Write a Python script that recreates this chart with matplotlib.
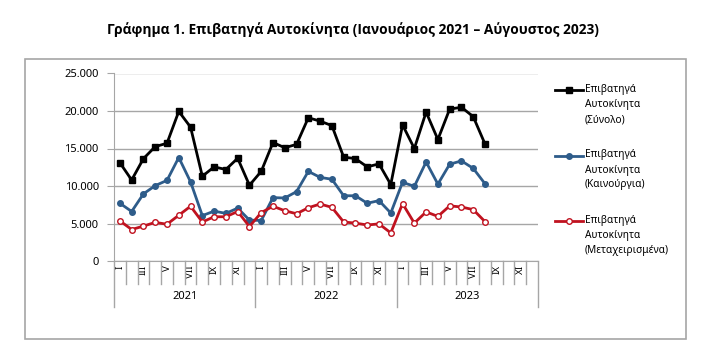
import numpy as np
import matplotlib
matplotlib.use('Agg')
import matplotlib.pyplot as plt
import matplotlib.transforms as mtransforms
from matplotlib.lines import Line2D
from matplotlib.patches import Rectangle
from matplotlib.ticker import FuncFormatter

plt.rcParams['font.family'] = ['Noto Sans', 'DejaVu Sans']

# data (Jan 2021 - Aug 2023)
years = ['2021', '2022', '2023']
month_labels = ['I', '', 'III', '', 'V', '', 'VII', '', 'IX', '', 'XI', '']
total = [13100, 10800, 13650, 15250, 15700, 19950, 17850, 11300, 12550, 12200, 13700, 10100,
         11950, 15800, 15100, 15550, 19100, 18650, 18050, 13850, 13650, 12550, 12950, 10200,
         18150, 15000, 19850, 16200, 20250, 20500, 19250, 15600]
new = [7700, 6600, 8950, 10050, 10750, 13800, 10550, 6050, 6650, 6350, 7050, 5450,
       5400, 8450, 8400, 9250, 11950, 11150, 10900, 8700, 8700, 7700, 8050, 6400,
       10500, 9950, 13200, 10250, 12900, 13350, 12350, 10300]
used = [5350, 4200, 4650, 5150, 4900, 6100, 7300, 5200, 5900, 5900, 6600, 4600,
        6450, 7300, 6700, 6300, 7100, 7600, 7150, 5200, 5050, 4800, 4950, 3750,
        7650, 5050, 6550, 5950, 7350, 7200, 6850, 5250]

series = [
    (total, 'Επιβατηγά\nΑυτοκίνητα\n(Σύνολο)', dict(color='black', marker='s', markersize=4,
                                                   markerfacecolor='black')),
    (new, 'Επιβατηγά\nΑυτοκίνητα\n(Καινούργια)', dict(color='#2E5C8A', marker='o', markersize=4,
                                                       markerfacecolor='#2E5C8A')),
    (used, 'Επιβατηγά\nΑυτοκίνητα\n(Μεταχειρισμένα)', dict(color='#C0121F', marker='o', markersize=4,
                                                           markerfacecolor='white', markeredgewidth=1)),
]

W, H = 710, 350
fig = plt.figure(figsize=(7.1, 3.5), dpi=100)

# outer frame
fig.add_artist(Rectangle((25 / W, 1 - 339 / H), 661 / W, 280 / H, transform=fig.transFigure,
                         fill=False, edgecolor='#A6A6A6', lw=1.2))

fig.text(353 / W, 1 - 30 / H, 'Γράφημα 1. Επιβατηγά Αυτοκίνητα (Ιανουάριος 2021 – Αύγουστος 2023)',
         ha='center', va='center', fontsize=9.9, fontweight='bold', family=['Open Sans', 'DejaVu Sans'])

ax = fig.add_axes([114 / W, 1 - 261 / H, 424 / W, 187.5 / H])
n_cat = len(years) * len(month_labels)
for vals, label, style in series:
    x = np.arange(len(vals))
    ax.plot(x, vals, lw=2, **style)

ax.set_xlim(-0.5, n_cat - 0.5)
ax.set_ylim(0, 25000)
ax.set_yticks(np.arange(0, 25001, 5000))
ax.yaxis.set_major_formatter(FuncFormatter(lambda v, p: f'{int(v):,}'.replace(',', '.')))
ax.yaxis.grid(True, color='#A6A6A6', lw=1)
ax.set_axisbelow(True)
for s in ['top', 'right']:
    ax.spines[s].set_visible(False)
for s in ['left', 'bottom']:
    ax.spines[s].set_color('#A6A6A6')
ax.tick_params(axis='y', colors='#A6A6A6', length=5, labelsize=8, labelcolor='black', pad=6)

# month labels (every other month)
pos = [i for i in range(n_cat) if month_labels[i % 12]]
ax.set_xticks(pos)
ax.set_xticklabels([month_labels[i % 12] for i in pos], rotation=90, fontsize=7)
ax.tick_params(axis='x', length=0, pad=3)

# category separators and year boundaries
trans = mtransforms.blended_transform_factory(ax.transData, ax.transAxes)
for b in np.arange(-0.5, n_cat, 1.0):
    depth = -0.245 if (b + 0.5) % 12 == 0 else -0.12
    ax.plot([b, b], [0, depth], transform=trans, clip_on=False, color='#A6A6A6', lw=1)
for k, yr in enumerate(years):
    ax.text(k * 12 + 5.5, -0.19, yr, transform=trans, ha='center', va='center', fontsize=8)

# legend drawn by hand
for k, (vals, label, style) in enumerate(series):
    yc = 1 - (90 + k * 65.5) / H
    fig.add_artist(Line2D([555 / W, 583 / W], [yc, yc], transform=fig.transFigure, lw=2,
                          **dict(style, marker=None)))
    fig.add_artist(Line2D([569 / W], [yc], transform=fig.transFigure, linestyle='none', **style))
    fig.text(585 / W, yc + 6 / H, label, ha='left', va='top', fontsize=7.3, linespacing=1.5)

fig.savefig('out.png', dpi=100)
